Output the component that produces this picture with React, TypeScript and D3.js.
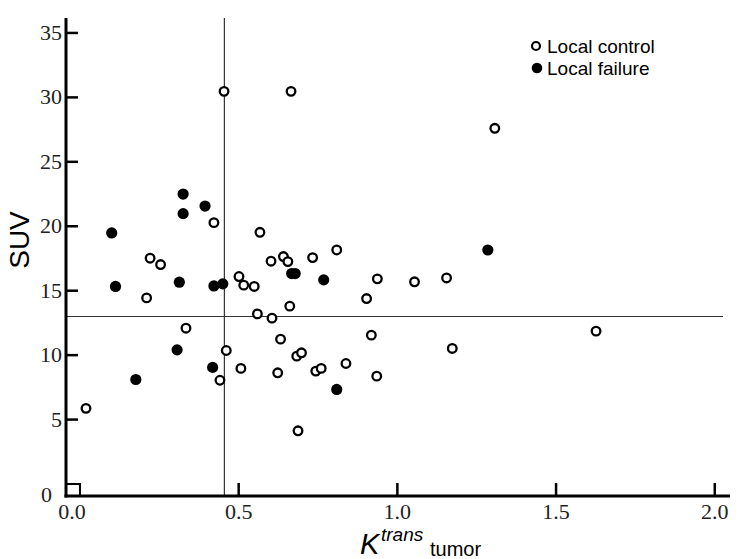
import React from 'react';
import * as d3 from 'd3';

// Ktrans (tumor) vs SUV
const controlK = [0.019, 0.21, 0.221, 0.254, 0.334, 0.422, 0.454, 0.461, 0.441, 0.501,
  0.507, 0.516, 0.549, 0.559, 0.567, 0.602, 0.605, 0.623, 0.632, 0.641,
  0.655, 0.661, 0.665, 0.683, 0.698, 0.687, 0.733, 0.743, 0.76, 0.809,
  0.838, 0.903, 0.918, 0.937, 0.935, 1.054, 1.155, 1.173, 1.307, 1.626];
const controlSUV = [5.87, 14.44, 17.52, 17.03, 12.09, 20.28, 30.47, 10.36, 8.05, 16.1,
  8.97, 15.43, 15.33, 13.2, 19.53, 17.29, 12.87, 8.63, 11.24, 17.65,
  17.26, 13.8, 30.47, 9.92, 10.18, 4.13, 17.57, 8.76, 8.97, 18.16,
  9.35, 14.39, 11.55, 15.92, 8.37, 15.69, 15.99, 10.52, 27.6, 11.86];

const failureK = [0.1, 0.112, 0.176, 0.306, 0.313, 0.325, 0.325, 0.394, 0.418, 0.422,
  0.45, 0.667, 0.678, 0.768, 0.809, 1.285];
const failureSUV = [19.48, 15.33, 8.11, 10.41, 15.66, 22.5, 20.98, 21.57, 9.05, 15.37,
  15.53, 16.33, 16.33, 15.84, 7.34, 18.16];

const xTicks = [0, 0.5, 1.0, 1.5, 2.0];
const yTicks = [0, 5, 10, 15, 20, 25, 30, 35];
const legendLabels = ['Local control', 'Local failure'];

const cutK = 0.455;
const cutSUV = 13;

const xMin = -0.044, xMax = 2.048;
const yMin = -0.93, yMax = 36.16;

const serif = '"Liberation Serif", "Times New Roman", serif';
const sans = '"Liberation Sans", Arial, sans-serif';

const App = () => {
  const x = d3.scaleLinear().domain([xMin, xMax]).range([66, 730]);
  const y = d3.scaleLinear().domain([yMin, yMax]).range([496, 18]);

  const control = controlK.map((k, i) => ({ k, s: controlSUV[i] }));
  const failure = failureK.map((k, i) => ({ k, s: failureSUV[i] }));

  return (
    <svg width={750} height={559} style={{ position: 'absolute', left: 0, top: 0, background: '#fff' }}>
      {/* cut-off lines */}
      <line x1={x(cutK)} x2={x(cutK)} y1={y(yMax)} y2={y(yMin)} stroke="#333" strokeWidth={1.2} />
      <line x1={x(xMin)} x2={723} y1={y(cutSUV)} y2={y(cutSUV)} stroke="#333" strokeWidth={1.2} />

      {/* axes */}
      <line x1={x(xMin)} x2={x(xMin)} y1={y(yMax)} y2={y(yMin) + 1.5} stroke="#000" strokeWidth={3} />
      <line x1={x(xMin) - 1.5} x2={x(xMax)} y1={y(yMin)} y2={y(yMin)} stroke="#000" strokeWidth={3} />
      <rect x={x(xMin)} y={y(0)} width={x(0) - x(xMin)} height={y(yMin) - y(0)}
        fill="none" stroke="#000" strokeWidth={2} />

      {yTicks.map((t) => (
        <g key={'y' + t}>
          {t > 0 && <line x1={x(xMin)} x2={x(xMin) + 12} y1={y(t)} y2={y(t)} stroke="#000" strokeWidth={2.5} />}
          <text x={t === 0 ? 52 : 62} y={(t === 0 ? y(yMin) - 1 : y(t)) + 7} textAnchor="end"
            fontFamily={serif} fontSize={22} fill="#222">{t}</text>
        </g>
      ))}

      {xTicks.map((t) => (
        <g key={'x' + t}>
          {t > 0 && <line x1={x(t)} x2={x(t)} y1={y(yMin)} y2={y(yMin) - 13} stroke="#000" strokeWidth={2.5} />}
          <text x={t === 0 ? x(xMin) + 6 : x(t)} y={y(yMin) + 23} textAnchor="middle"
            fontFamily={serif} fontSize={22} fill="#222">{d3.format('.1f')(t)}</text>
        </g>
      ))}

      {/* axis titles */}
      <text transform="translate(29,240) rotate(-90)" textAnchor="middle"
        fontFamily={sans} fontSize={28} fill="#000">SUV</text>
      <text x={360} y={554} fontFamily={sans} fontSize={29} fontStyle="italic" fill="#000">K</text>
      <text x={381} y={541} fontFamily={sans} fontSize={19} fontStyle="italic" fill="#000">trans</text>
      <text x={430} y={556} fontFamily={sans} fontSize={20} fill="#000">tumor</text>

      {/* points */}
      {control.map((d, i) => (
        <circle key={'c' + i} cx={x(d.k)} cy={y(d.s)} r={4.3} fill="#fff" stroke="#000" strokeWidth={2.3} />
      ))}
      {failure.map((d, i) => (
        <circle key={'f' + i} cx={x(d.k)} cy={y(d.s)} r={5.6} fill="#000" />
      ))}

      {/* legend */}
      <g fontFamily={sans} fontSize={19} fill="#000">
        <circle cx={536} cy={46} r={4} fill="#fff" stroke="#000" strokeWidth={2.2} />
        <text x={547} y={53}>{legendLabels[0]}</text>
        <circle cx={537} cy={68} r={5.3} fill="#000" />
        <text x={547} y={75}>{legendLabels[1]}</text>
      </g>
    </svg>
  );
};

export default App;
